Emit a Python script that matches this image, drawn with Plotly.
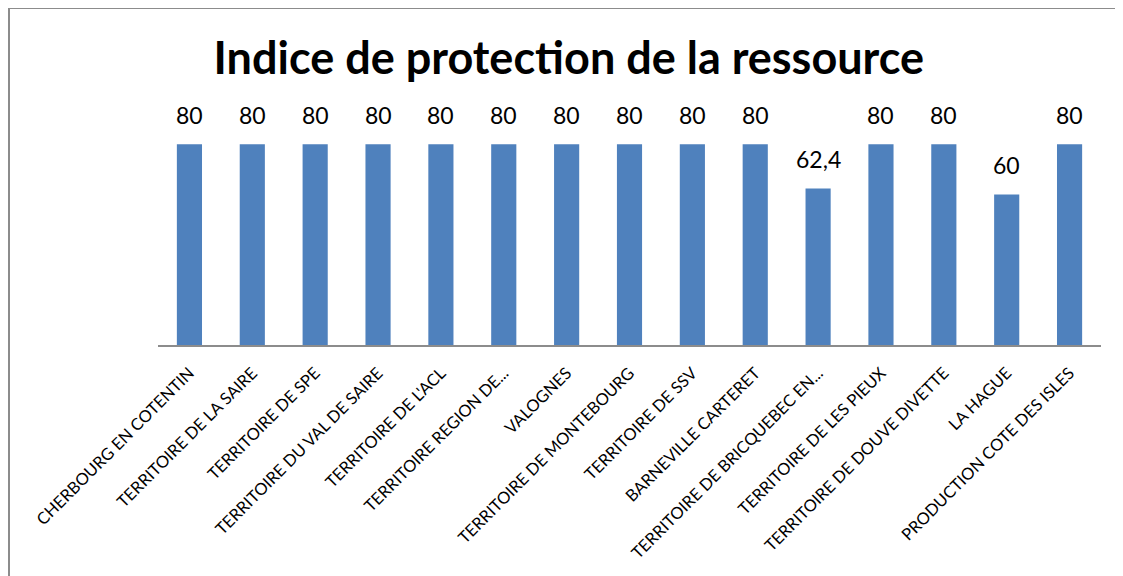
import plotly.graph_objects as go

categories = [
    "CHERBOURG EN COTENTIN",
    "TERRITOIRE DE LA SAIRE",
    "TERRITOIRE DE SPE",
    "TERRITOIRE DU VAL DE SAIRE",
    "TERRITOIRE DE L'ACL",
    "TERRITOIRE REGION DE...",
    "VALOGNES",
    "TERRITOIRE DE MONTEBOURG",
    "TERRITOIRE DE SSV",
    "BARNEVILLE CARTERET",
    "TERRITOIRE DE BRICQUEBEC EN...",
    "TERRITOIRE DE LES PIEUX",
    "TERRITOIRE DE DOUVE DIVETTE",
    "LA HAGUE",
    "PRODUCTION COTE DES ISLES",
]
values = [80, 80, 80, 80, 80, 80, 80, 80, 80, 80, 62.4, 80, 80, 60, 80]
labels = [str(v).replace(".", ",") for v in values]

# page has an 8px body margin, so the figure sits at (8, 8)
W, H = 1115, 568
L, R, T, B = 150, 22, 86, 231
pw, ph = W - L - R, H - T - B

fig = go.Figure(
    go.Bar(
        x=categories,
        y=values,
        marker_color="#4F81BD",
        marker_line_width=0,
        width=0.4,
    )
)

for c, v, t in zip(categories, values, labels):
    fig.add_annotation(
        x=c, y=v, text=t, showarrow=False, yanchor="bottom", yshift=13,
        font=dict(family="Lato", size=23, color="#000000"),
    )


def px2paper_x(px):
    return (px - L) / pw


def px2paper_y(py):
    return (H - B - py) / ph


border = dict(color="#8C8C8C", width=2)
fig.add_shape(type="line", xref="paper", yref="paper",
              x0=px2paper_x(0), x1=px2paper_x(W), y0=px2paper_y(0), y1=px2paper_y(0), line=border)
fig.add_shape(type="line", xref="paper", yref="paper",
              x0=px2paper_x(1), x1=px2paper_x(1), y0=px2paper_y(0), y1=px2paper_y(H), line=border)

fig.update_layout(
    width=W,
    height=H,
    margin=dict(l=L, r=R, t=T, b=B, autoexpand=False),
    paper_bgcolor="white",
    plot_bgcolor="white",
    showlegend=False,
    title=dict(
        text="<b>Indice de protection de la ressource</b>",
        x=0.503, xanchor="center", y=0.912, yanchor="middle",
        font=dict(family="Lato", size=45, color="#000000"),
    ),
    font=dict(family="Lato", color="#000000"),
)
fig.update_xaxes(
    tickangle=-45,
    tickfont=dict(family="Lato", size=16.5, color="#000000"),
    ticklabelstandoff=10,
    showline=True, linecolor="#8C8C8C", linewidth=2,
    ticks="", showgrid=False,
)
fig.update_yaxes(range=[0, 100], visible=False, showgrid=False)

fig.write_html("out.html")
